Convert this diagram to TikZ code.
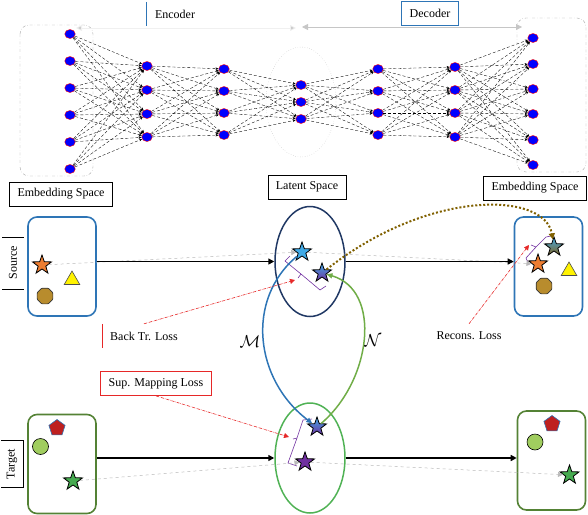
\documentclass[tikz,border=0pt]{standalone}
\usepackage{fontspec}
\setmainfont{Liberation Serif}
\usetikzlibrary{shapes.geometric,arrows.meta}

\definecolor{bleuS}{RGB}{46,117,182}
\definecolor{marine}{RGB}{32,56,100}
\definecolor{vertT}{RGB}{84,130,53}
\definecolor{vertL}{RGB}{80,178,85}
\definecolor{vertN}{RGB}{112,173,71}
\definecolor{vertE}{RGB}{70,170,80}
\definecolor{vertC}{RGB}{160,205,95}
\definecolor{orangeE}{RGB}{237,125,49}
\definecolor{brunO}{RGB}{184,140,45}
\definecolor{brunA}{RGB}{128,96,0}
\definecolor{bleuE}{RGB}{64,170,230}
\definecolor{violetC}{RGB}{112,48,160}
\definecolor{rougeP}{RGB}{190,32,32}
\definecolor{rougeL}{RGB}{230,40,40}

\begin{document}
\begin{tikzpicture}[x=1pt, y=-1pt, font=\fontsize{12}{14}\selectfont,
  neurone/.style={ellipse, fill=blue, draw=red, line width=0.4pt, inner sep=0pt, minimum width=10.5, minimum height=9},
  lien/.style={densely dashed, line width=0.35pt, -{Stealth[length=3pt,width=2.5pt]}},
  etiquette/.style={inner xsep=8, inner ysep=0, minimum height=24},
  boite/.style={rounded corners=9, line width=1.6, minimum width=68, minimum height=99},
  latent/.style={ellipse, line width=1.5, minimum width=70, minimum height=110},
  etoile/.style={star, star points=5, star point ratio=2.5, draw=black, line width=0.8, inner sep=0pt, minimum size=20},
  triangle/.style={regular polygon, regular polygon sides=3, fill=yellow, draw=black!70, line width=0.6, inner sep=0pt, minimum size=18},
  octogone/.style={regular polygon, regular polygon sides=8, fill=brunO, draw=black!80, line width=0.7, inner sep=0pt, minimum size=17, rounded corners=0.8},
  pentagone/.style={regular polygon, regular polygon sides=5, fill=rougeP, draw=bleuS, line width=0.6, inner sep=0pt, minimum size=17},
  rond/.style={circle, fill=vertC, draw=black, line width=0.6, inner sep=0pt, minimum size=16},
  fleche/.style={line width=1.6, -{Triangle[length=6pt,width=6pt]}},
  fantome/.style={gray!55, dashed, line width=0.5, -{Triangle[length=5pt,width=5pt]}},
  perte/.style={rougeL, densely dash dot, line width=0.6, -{Triangle[length=5pt,width=5pt]}},
  crochet/.style={violetC, line width=0.6}]

\useasboundingbox (0,0) rectangle (588,514);

% Réseau encodeur / décodeur
\foreach \c/\xx/\liste in {1/70/{34,61,88,115,142,169}, 2/147/{66,90,114,137},
    3/224/{69,91,113,135}, 4/301/{85,102,119}, 5/378/{69,91,113,135},
    6/455/{67,90,113,137}, 7/533/{38,64,89,114,140,165}}
  \foreach \y [count=\i] in \liste
    \node[neurone] (n\c-\i) at (\xx,\y) {};

\foreach \a/\na/\b/\nb in {1/6/2/4, 2/4/3/4, 3/4/4/3, 4/3/5/4, 5/4/6/4, 6/4/7/6}
  \foreach \i in {1,...,\na}
    \foreach \j in {1,...,\nb}
      \draw[lien] (n\a-\i) -- (n\b-\j);

\draw[gray!70, dash dot, rounded corners=9] (20,25) rectangle (93,176);
\draw[gray!70, dash dot, rounded corners=9] (517,18) rectangle (586,172);
\draw[gray!60, dotted] (301,102) ellipse [x radius=35, y radius=55];

% Encodeur, décodeur
\node[etiquette] (enc) at (175,14) {Encoder};
\draw[bleuS, line width=0.8] (enc.north west) -- (enc.south west);
\node[etiquette, draw=bleuS, line width=0.8] (dec) at (430,13.5) {Decoder};

\coordinate (encG) at (76,28);
\coordinate (encD) at (296,28);
\coordinate (decG) at (302,27);
\coordinate (decD) at (522,27);
\draw[gray!12, line width=0.8, {Triangle[length=6pt,width=6pt,fill=gray!40]}-{Triangle[length=6pt,width=6pt,fill=gray!40]}] (encG) -- (encD);
\draw[gray!45, line width=0.8, {Triangle[length=6pt,width=6pt]}-{Triangle[length=6pt,width=6pt]}] (decG) -- (decD);

% Espaces
\node[etiquette, draw, line width=0.6] (embG) at (61,194) {Embedding Space};
\node[etiquette, draw, line width=0.6] (lat) at (307,187) {Latent Space};
\node[etiquette, draw, line width=0.6] (embD) at (535,188) {Embedding Space};

\node[etiquette, rotate=90, minimum height=21, inner xsep=9] (src) at (13,263) {Source};
\draw[line width=0.6] (src.north west) -- (src.south west);
\draw[line width=0.6] (src.north east) -- (src.south east);
\node[etiquette, rotate=90, minimum height=22] (tgt) at (12,464) {Target};
\draw[line width=0.6] (tgt.north east) -- (tgt.south east) -- (tgt.south west) -- (tgt.north west);

% Boîtes et ellipses latentes
\node[boite, draw=bleuS] (srcG) at (62,266.5) {};
\node[boite, draw=bleuS] (srcD) at (548.5,266.5) {};
\node[boite, draw=vertT] (tgtG) at (62,464) {};
\node[boite, draw=vertT] (tgtD) at (551.5,460.5) {};
\node[latent, draw=marine] (latS) at (310,261.5) {};
\node[latent, draw=vertL] (latT) at (310,458) {};

% Crochets de distance
\draw[crochet] (290,256) -- (285,261) -- (301,274) -- (320,290) -- (326,286);
\draw[crochet] (301,274) -- (298,278);
\draw[crochet] (551,236) -- (546,237) -- (536,247) -- (526,258) -- (529,265);
\draw[crochet] (536,247) -- (531,245);
\draw[crochet] (312,419) -- (303,420) -- (297,438) -- (288,463) -- (297,466);
\draw[crochet] (297,438) -- (293,439);
\coordinate (crS) at (295,280);
\coordinate (crD) at (529,245);
\coordinate (crT) at (289,437);

% Source
\node[etoile, fill=orangeE] (oS) at (42,265) {};
\node[triangle] (triS) at (72,280) {};
\node[octogone] (octS) at (45,296) {};
\node[etoile, fill=bleuE] (etS1) at (302,252) {};
\node[etoile, top color=bleuE, bottom color=violetC] (etS2) at (322,273) {};
\node[etoile, top color=bleuE, bottom color=brunO!70!black] (etD1) at (554,247) {};
\node[etoile, fill=orangeE] (oD) at (538,264) {};
\node[triangle] (triD) at (569,271) {};
\node[octogone] (octD) at (544,286) {};

% Cible
\node[pentagone] (pG) at (57,428) {};
\node[rond] (rG) at (40.5,446.5) {};
\node[etoile, fill=vertE] (etG) at (73,481) {};
\node[etoile, top color=bleuE, bottom color=violetC] (etT1) at (317,427) {};
\node[etoile, fill=violetC] (etT2) at (305,462) {};
\node[pentagone] (pD) at (552,424) {};
\node[rond] (rD) at (535,442) {};
\node[etoile, fill=vertE] (etGD) at (569.5,475) {};

% Flèches
\draw[fantome] (oS) -- (etS1);
\draw[fantome] (etS1) -- (oD);
\draw[fantome] (etG) -- (etT2);
\draw[fantome] (etT2) -- (etGD);

\draw[fleche] (srcG.east |- latS.west) -- (latS.west);
\draw[fleche] (latS.east) -- (latS.east -| srcD.west);
\draw[fleche] (tgtG.east |- latT.west) -- (latT.west);
\draw[fleche] (latT.east) -- (latT.east -| tgtD.west);

\draw[bleuS, line width=1.5, -{Triangle[length=6pt,width=5pt]}]
  (etS1) .. controls (245,300) and (255,380) .. (etT1);
\draw[vertN, line width=1.5, -{Triangle[length=6pt,width=5pt]}]
  (etT1) .. controls (372,380) and (382,290) .. (etS2);
\draw[brunA, line width=2, dotted, -{Triangle[length=6pt,width=6pt]}]
  (etS2) .. controls (430,188) and (545,192) .. (etD1);
\node[font=\LARGE] (lblM) at (250,342) {$\mathcal{M}$};
\node[font=\LARGE] (lblN) at (373,341) {$\mathcal{N}$};

% Pertes
\node[etiquette] (bt) at (144,336) {Back Tr. Loss};
\draw[rougeL, line width=0.8] (bt.north west) -- (bt.south west);
\node[etiquette] (rl) at (469,336) {Recons. Loss};
\node[etiquette, draw=rougeL, line width=0.8] (sml) at (156,383.5) {Sup. Mapping Loss};

\draw[perte] (bt.north) -- (crS);
\draw[perte] (rl.north) -- (crD);
\draw[perte] (sml.south) -- (crT);

\end{tikzpicture}
\end{document}
